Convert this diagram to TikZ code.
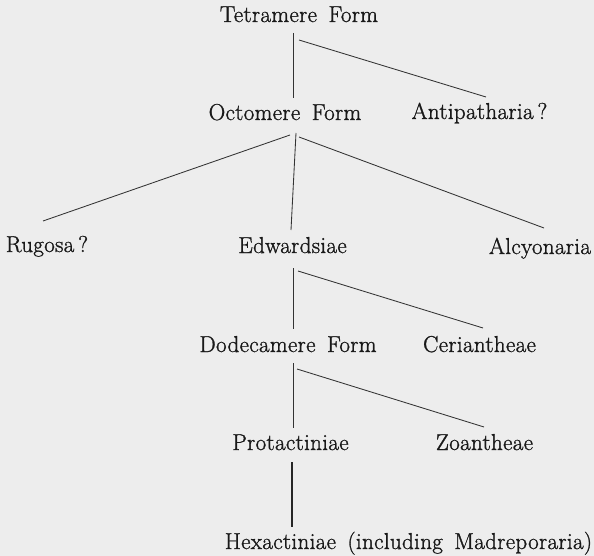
\documentclass[tikz,border=0pt]{standalone}
\usepackage{fontspec}
\newfontfamily\lblfam{Latin Modern Roman}[FakeBold=1.2,LetterSpace=1.5]
\newcommand{\lblfontsel}{\lblfam\fontsize{23}{27}\selectfont\spaceskip=0.5em plus 0.1em\relax}
\begin{document}
\begin{tikzpicture}[x=1pt,y=-1pt,
  lbl/.style={anchor=base,inner sep=0pt,text=black!90,font=\lblfontsel},
  conn/.style={draw=black!80,line width=0.85pt},
  thick conn/.style={draw=black!85,line width=1.6pt}]
\fill[black!7] (0,0) rectangle (594,556);
\useasboundingbox (0,0) rectangle (594,556);
% labels
\node[lbl] (tet) at (299,22) {Tetramere Form};
\node[lbl] (oct) at (285,120) {Octomere Form};
\node[lbl] (ant) at (479.5,119) {Antipatharia\,?};
\node[lbl] (rug) at (47,252) {Rugosa\,?};
\node[lbl] (edw) at (292.5,253) {Edwardsiae};
\node[lbl] (alc) at (540,254) {Alcyonaria};
\node[lbl] (dod) at (288,352) {Dodecamere Form};
\node[lbl] (cer) at (479.5,352) {Ceriantheae};
\node[lbl] (pro) at (290.5,450) {Protactiniae};
\node[lbl] (zoa) at (484.5,450) {Zoantheae};
\node[lbl] (hex) at (408.5,549) {Hexactiniae (including Madreporaria)};
% connector end points
\coordinate (t1) at (293,33);  \coordinate (o0) at (293,98);
\coordinate (t2) at (299,40);  \coordinate (a0) at (486,97);
\coordinate (o1) at (290,135); \coordinate (r0) at (43,221);
\coordinate (o2) at (296,133); \coordinate (e0) at (291,230);
\coordinate (o3) at (299,137); \coordinate (al0) at (544,228);
\coordinate (e1) at (293,268); \coordinate (d0) at (293,329);
\coordinate (e2) at (298,271); \coordinate (c0) at (483,328);
\coordinate (d1) at (293,363); \coordinate (p0) at (293,428);
\coordinate (d2) at (297,369); \coordinate (z0) at (484,427);
\coordinate (p1) at (292,462); \coordinate (h0) at (292,527);
% connectors
\draw[conn] (t1) -- (o0);
\draw[conn] (t2) -- (a0);
\draw[conn] (o1) -- (r0);
\draw[conn] (o2) -- (e0);
\draw[conn] (o3) -- (al0);
\draw[conn] (e1) -- (d0);
\draw[conn] (e2) -- (c0);
\draw[conn] (d1) -- (p0);
\draw[conn] (d2) -- (z0);
\draw[thick conn] (p1) -- (h0);
\end{tikzpicture}
\end{document}
